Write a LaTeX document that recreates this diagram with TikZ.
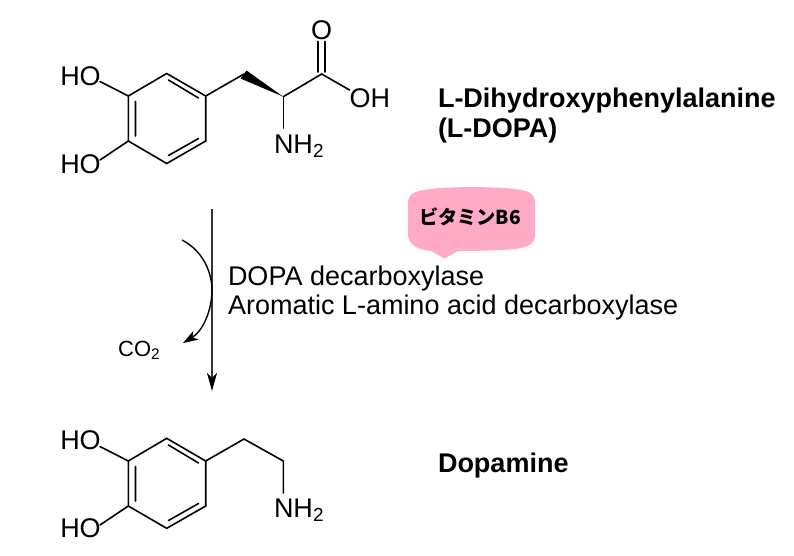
\documentclass[tikz,border=0pt]{standalone}
\usepackage{fontspec}
\setmainfont{Liberation Sans}
\newfontfamily\cjk{Noto Sans CJK JP}
\usetikzlibrary{arrows.meta}
\definecolor{bubblepink}{HTML}{FFABC6}
\tikzset{
  bond/.style={line width=1.6pt,black,line cap=round},
  atom/.style={inner sep=0pt,outer sep=0pt,font=\fontsize{27}{27}\selectfont,text=black},
  label/.style={inner sep=0pt,outer sep=0pt,anchor=base west,font=\fontsize{27}{29}\selectfont\bfseries},
  enzyme/.style={inner sep=0pt,outer sep=0pt,anchor=base west,font=\fontsize{27}{27}\selectfont,text=black},
  reaction/.style={line width=1.7pt,black!80,-{Stealth[length=18pt,width=10pt,inset=5pt,black]}},
  loss/.style={line width=1.4pt,black,-{Stealth[length=15pt,width=10pt,inset=4pt]}},
}
\begin{document}
\begin{tikzpicture}[x=1pt,y=-1pt]
\useasboundingbox (0,0) rectangle (794,555);
\foreach \n/\p in {a/{166.7,73.5},b/{205.7,96},c/{205.7,141},d/{166.7,163.5},e/{128.3,141},f/{128.3,96},
  g/{244,74},h/{283.3,96.7},i/{321.7,74},
  p/{166.7,438.3},q/{205.7,461},r/{205.7,506},s/{166.7,528.3},t/{128.3,506},u/{128.3,461},
  v/{244,439},w/{283.3,461},
  ai/{168.5,80},bi/{198.5,98},ci/{198.5,138.5},di/{168.5,155.5},ei/{135.5,136},fi/{135.5,101.5},
  pi/{168.5,445},qi/{198.5,463},ri/{198.5,503.5},si/{168.5,520.5},ti/{135.5,501},ui/{135.5,466.5},
  o1/{317.8,41.5},o2/{325.2,41.5},i1/{317.8,72},i2/{325.2,72}}
  {\coordinate (\n) at (\p);}
% labels
\node[atom] (ho1) at (80.5,76) {HO};
\node[atom] (ho2) at (80.5,164) {HO};
\node[atom] (oxo) at (321.5,30) {O};
\node[atom,anchor=base west] (oh) at (349.5,107) {OH};
\node[atom,anchor=base west] (nh1) at (274,153) {NH\textsubscript{2}};
\node[atom] (ho3) at (80.5,440) {HO};
\node[atom] (ho4) at (80.5,528) {HO};
\node[atom,anchor=base west] (nh2) at (274,517) {NH\textsubscript{2}};
% L-DOPA bonds
\draw[bond] (a)--(b)--(c)--(d)--(e)--(f)--cycle;
\draw[bond] (ai)--(bi) (ci)--(di) (ei)--(fi);
\draw[bond] (f)--(100,81.5) (e)--(100,160);
\draw[bond] (b)--(g);
\fill[black] (240.5,78.5)--(246.5,70.5)--(h)--cycle;
\draw[bond] (h)--(i);
\draw[bond] (i)--(349.5,90);
\draw[bond] (h)--(283.3,128);
\draw[bond] (i1)--(o1) (i2)--(o2);
% dopamine bonds
\draw[bond] (p)--(q)--(r)--(s)--(t)--(u)--cycle;
\draw[bond] (pi)--(qi) (ri)--(si) (ti)--(ui);
\draw[bond] (u)--(100,446.5) (t)--(100,525);
\draw[bond] (q)--(v)--(w)--(283.3,493);
% reaction arrow
\coordinate (arrstart) at (212,209);
\coordinate (arrend) at (212,391);
\draw[reaction] (arrstart)--(arrend);
\coordinate (cstart) at (182,240);
\coordinate (cend) at (183,343);
\draw[loss] (cstart) .. controls (205,252) and (212,275) .. (212,290) .. controls (212,310) and (203,331) .. (cend);
\node[inner sep=0pt,anchor=base west,font=\fontsize{22}{22}\selectfont] (co2) at (118,356) {CO\textsubscript{2}};
% enzyme text
\node[enzyme] (enz1) at (228,285) {DOPA decarboxylase};
\node[enzyme] (enz2) at (228,314) {Aromatic L-amino acid decarboxylase};
% names
\node[label] (dopa1) at (438,107) {L-Dihydroxyphenylalanine};
\node[label] (dopa2) at (438,137) {(L-DOPA)};
\node[label] (dopamine) at (438,472) {Dopamine};
% bubble
\fill[bubblepink] (408,203) .. controls (408,193) and (416,191) .. (430,189)
  .. controls (450,186.5) and (495,186.5) .. (515,189)
  .. controls (529,191) and (535,193) .. (535,203)
  -- (535,234) .. controls (535,244) and (529,247) .. (515,249)
  .. controls (500,250.5) and (475,251) .. (458,251)
  -- (444.5,258.5) -- (431,251)
  .. controls (420,250) and (408,246) .. (408,234) -- cycle;
\node[inner sep=0pt,font=\fontsize{19.2}{19.2}\selectfont\bfseries\cjk] (b6) at (470,217) {ビタミンB6};
\end{tikzpicture}
\end{document}
